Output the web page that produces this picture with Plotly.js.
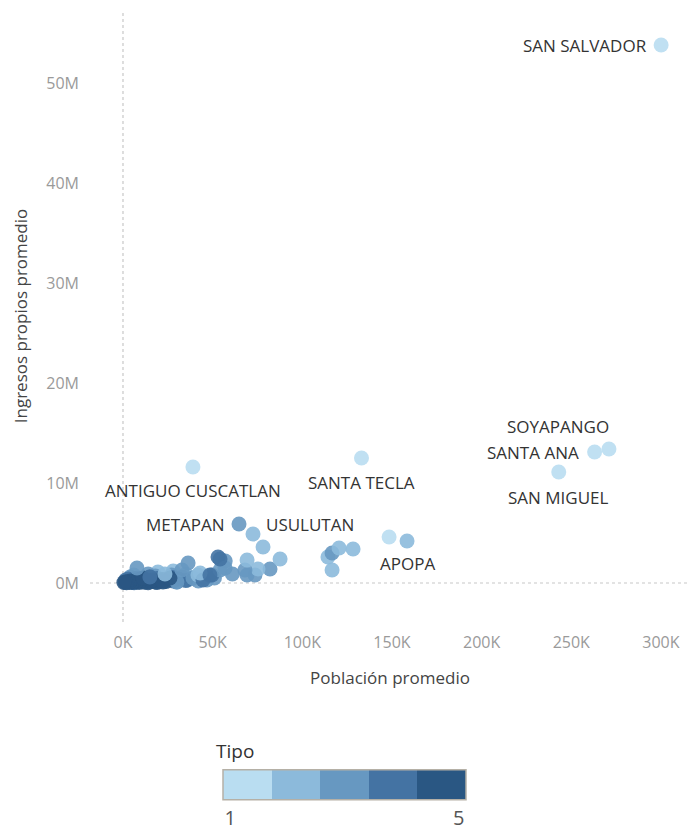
<!DOCTYPE html>
<html>
<head>
<meta charset="utf-8">
<script src="https://cdn.plot.ly/plotly-3.0.1.min.js"></script>
<style>html,body{margin:0;padding:0;background:#fff;}#chart{width:690px;height:831px;}</style>
</head>
<body>
<div id="chart"></div>
<script>
// Municipality names (blank = not labeled)
var municipio = [
  "SAN SALVADOR","SOYAPANGO","SANTA ANA","SAN MIGUEL","SANTA TECLA","ANTIGUO CUSCATLAN","METAPAN","USULUTAN","APOPA",
  "","","","","","","","","","","","","","","","","","","","","","","","","","","","","","","","","","",
  "","","","","","","","","","","","","","","","","","","","","","","","","",
  "","","","","","","","","","","","","","","","","",
  "","","","","","","","","","","","",
  "","","","","",""
];
// Average population (thousands)
var poblacion = [
  300.1,271,263,243,133,39,64.7,72.5,158.4,
  148.4,120.5,128.3,116.6,114.3,116.6,78.1,87.6,69.2,54.1,56.9,68,75.3,82,69.2,73.6,48.5,43,44.6,7.8,23.4,36.3,41.8,32.9,53,54.1,49.6,15,26.2,30.1,39,46.8,22.3,11.2,
  0.5,1.2,2,2.8,3.5,4.2,5,5.8,6.5,7.2,8,9,10,11,12,13.5,15,16.5,18,20,22,24,19,14,9.5,
  1.5,3,5,7,9.5,12.5,15,17,19,21,25,28,31,35,6.2,10.8,3.8,27.5,
  4,8,14,18,27,30,33,36,39,42,51,61,
  6,28,35,19.5,45,57
];
// Average own revenue (millions)
var ingresos = [
  53.8,13.4,13.1,11.1,12.5,11.6,5.9,4.9,4.2,
  4.6,3.5,3.4,3.0,2.6,1.3,3.6,2.4,2.3,2.4,1.5,1.3,1.4,1.4,0.8,0.8,0.8,1.0,0.3,1.5,0.9,2.0,0.8,1.3,2.6,1.3,0.8,0.6,0.5,0.1,0.5,0.3,0.1,0.5,
  0.05,0.1,0.02,0.15,0.08,0.2,0.05,0.12,0.25,0.1,0.18,0.05,0.3,0.15,0.08,0.22,0.12,0.3,0.1,0.2,0.35,0.15,0.05,0.02,0.4,
  0.3,0.4,0.35,0.45,0.2,0.4,0.6,0.25,0.45,0.15,0.3,0.2,0.4,0.25,0.02,0.3,0.12,0.55,
  0.6,0.5,0.9,0.7,0.8,0.1,0.6,0.3,0.5,0.2,0.5,0.9,
  0.8,1.2,0.9,1.1,0.6,2.2
];
// Municipality type
var tipo = [
  1,1,1,1,1,1,3,2,2,
  1,2,2,3,2,2,2,2,2,4,3,3,2,3,3,3,4,2,4,3,2,3,2,3,4,3,4,4,5,3,3,3,5,5,
  5,5,5,5,5,5,5,5,5,5,5,5,5,5,5,5,5,5,5,5,5,5,5,5,5,
  4,4,4,4,4,4,4,4,4,4,4,4,4,4,4,4,4,4,
  3,3,3,3,3,3,3,3,3,3,3,3,
  2,2,2,2,2,3
];
var xTickVals = [0,50,100,150,200,250,300];
var xTickText = ["0K","50K","100K","150K","200K","250K","300K"];
var yTickVals = [0,10,20,30,40,50];
var yTickText = ["0M","10M","20M","30M","40M","50M"];
var legendTitle = "Tipo";
var legendTickText = ["1","5"];

var FONT = "Open Sans, sans-serif";
var blues = ["#b9ddf1","#8cbadb","#6798c1","#4473a3","#2a5783"];
var stepped = [];
for (var i = 0; i < 5; i++) {
  stepped.push([i/5, blues[i]]);
  stepped.push([(i+1)/5, blues[i]]);
}

var order = poblacion.map(function(_, i){return i;}).reverse();
var xs = order.map(function(i){return poblacion[i];});
var ys = order.map(function(i){return ingresos[i];});
var cs = order.map(function(i){return tipo[i];});
var ns = order.map(function(i){return municipio[i];});

var tMin = 1, tMax = 5, inset = 0.12;
var trace = {
  type: "scatter",
  mode: "markers",
  x: xs, y: ys, text: ns,
  marker: {
    size: 15,
    color: cs,
    cmin: tMin, cmax: tMax,
    colorscale: stepped,
    opacity: 0.9,
    line: {width: 0},
    colorbar: {
      orientation: "h",
      x: 0.424, xanchor: "center",
      y: -0.289, yanchor: "middle",
      len: 243, lenmode: "pixels",
      thickness: 30, thicknessmode: "pixels",
      outlinecolor: "#b5b0a6", outlinewidth: 1.5,
      xpad: 0, ypad: 0,
      tickmode: "array",
      tickvals: [tMin + inset, tMax - inset], ticktext: legendTickText,
      ticks: "",
      tickfont: {family: FONT, size: 20, color: "#555"}
    }
  },
  hoverinfo: "text+x+y"
};

var placement = {
  "SAN SALVADOR": {xanchor:"right", xshift:-12, yshift:0},
  "SOYAPANGO": {xanchor:"center", xshift:-51, yshift:23},
  "SANTA ANA": {xanchor:"right", xshift:-14, yshift:0},
  "SAN MIGUEL": {xanchor:"center", xshift:0, yshift:-25},
  "SANTA TECLA": {xanchor:"center", xshift:0, yshift:-24},
  "ANTIGUO CUSCATLAN": {xanchor:"center", xshift:0, yshift:-23},
  "METAPAN": {xanchor:"right", xshift:-12, yshift:0},
  "USULUTAN": {xanchor:"left", xshift:11, yshift:10},
  "APOPA": {xanchor:"center", xshift:0, yshift:-22}
};
var annotations = [];
municipio.forEach(function(n, i){
  if (!n) return;
  var p = placement[n];
  annotations.push({
    x: poblacion[i], y: ingresos[i], xref: "x", yref: "y",
    text: n, showarrow: false,
    xanchor: p.xanchor, yanchor: "middle",
    xshift: p.xshift, yshift: p.yshift,
    font: {family: FONT, size: 17, color: "#333"}
  });
});
annotations.push({
  xref: "paper", yref: "paper",
  x: (214 - 90) / 600, y: (622 - 751) / 612,
  xanchor: "left", yanchor: "middle",
  text: legendTitle, showarrow: false,
  font: {family: FONT, size: 19, color: "#333"}
});

var layout = {
  width: 690, height: 831,
  margin: {l: 90, r: 0, t: 10, b: 209},
  paper_bgcolor: "#fff", plot_bgcolor: "#fff",
  showlegend: false,
  font: {family: FONT},
  xaxis: {
    range: [-18.4, 316.2],
    showgrid: false, zeroline: false, showline: false,
    tickmode: "array", tickvals: xTickVals, ticktext: xTickText,
    ticks: "", ticklabelstandoff: 9,
    tickfont: {size: 16, color: "#9a9a9a"},
    title: {text: "Población promedio", standoff: 20, font: {size: 17, color: "#444"}},
    automargin: false
  },
  yaxis: {
    range: [-3.9, 57.3],
    showgrid: false, zeroline: false, showline: false,
    tickmode: "array", tickvals: yTickVals, ticktext: yTickText,
    ticks: "", ticklabelstandoff: 10,
    tickfont: {size: 16, color: "#9a9a9a"},
    title: {text: "Ingresos propios promedio", standoff: 14, font: {size: 17, color: "#444"}},
    automargin: false
  },
  shapes: [
    {type: "line", xref: "x", yref: "paper", x0: 0, x1: 0, y0: 0, y1: 1,
     line: {color: "#c8c8c8", width: 1.2, dash: "dot"}, layer: "below"},
    {type: "line", xref: "paper", yref: "y", x0: 0, x1: 1, y0: 0, y1: 0,
     line: {color: "#c8c8c8", width: 1.2, dash: "dot"}, layer: "below"}
  ],
  annotations: annotations
};

Plotly.newPlot("chart", [trace], layout, {displayModeBar: false, staticPlot: true});
</script>
</body>
</html>
